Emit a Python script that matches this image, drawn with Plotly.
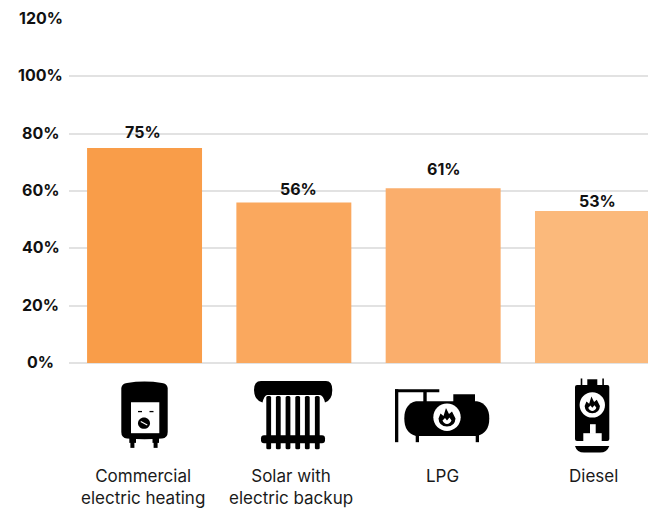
import plotly.graph_objects as go

W, H = 648, 508
ML, MT, MB = 69, 18.5, 145

categories = ["Commercial<br>electric heating", "Solar with<br>electric backup", "LPG", "Diesel"]
values = [75, 56, 61, 53]
labels = ["75%", "56%", "61%", "53%"]
bar_colors = ["#F99D49", "#FAA85E", "#FAAE6C", "#FBB97B"]
y_ticks = [0, 20, 40, 60, 80, 100, 120]

# Hand placement of the value and category labels relative to their bars, in pixels.
label_xshift = [-2, 5, 1, 5]
label_yshift = [16, 13, 19, 10]
category_xshift = [-2, -2.5, -1, 1]

FONT = "Inter, Lato, sans-serif"
INK = "#111111"


def px(x):
    return (x - ML) / (W - ML)


def py(y):
    return (H - MB - y) / (H - MB - MT)


def path(points, color="#000000"):
    d = ""
    for cmd, *pts in points:
        d += cmd
        d += " ".join(f"{px(pts[i]):.5f},{py(pts[i + 1]):.5f}" for i in range(0, len(pts), 2))
    return dict(type="path", xref="paper", yref="paper", path=d + "Z",
                fillcolor=color, line_width=0, layer="above")


def rect(x0, y0, x1, y1, color="#000000"):
    return path([("M", x0, y0), ("L", x1, y0), ("L", x1, y1), ("L", x0, y1)], color)


def rounded(x0, y0, x1, y1, r, color="#000000"):
    return path([
        ("M", x0 + r, y0), ("L", x1 - r, y0), ("Q", x1, y0, x1, y0 + r),
        ("L", x1, y1 - r), ("Q", x1, y1, x1 - r, y1), ("L", x0 + r, y1),
        ("Q", x0, y1, x0, y1 - r), ("L", x0, y0 + r), ("Q", x0, y0, x0 + r, y0),
    ], color)


def disc(cx, cy, rx, ry=None, color="#000000"):
    ry = rx if ry is None else ry
    k = 0.5523
    return path([
        ("M", cx - rx, cy),
        ("C", cx - rx, cy - k * ry, cx - k * rx, cy - ry, cx, cy - ry),
        ("C", cx + k * rx, cy - ry, cx + rx, cy - k * ry, cx + rx, cy),
        ("C", cx + rx, cy + k * ry, cx + k * rx, cy + ry, cx, cy + ry),
        ("C", cx - k * rx, cy + ry, cx - rx, cy + k * ry, cx - rx, cy),
    ], color)


def flame(cx, cy, s):
    # Flame badge: black flame with a white lick at its base.
    outer = path([
        ("M", cx - 8.5 * s, cy + 1 * s), ("L", cx - 6.5 * s, cy - 4 * s), ("L", cx - 3.5 * s, cy - 1.5 * s),
        ("L", cx - 1 * s, cy - 9.5 * s), ("L", cx + 2 * s, cy - 3.5 * s), ("L", cx + 5 * s, cy - 6 * s),
        ("L", cx + 8.5 * s, cy + 1 * s),
        ("Q", cx + 8 * s, cy + 9 * s, cx, cy + 9 * s), ("Q", cx - 8 * s, cy + 9 * s, cx - 8.5 * s, cy + 1 * s),
    ])
    inner = path([
        ("M", cx - 4.5 * s, cy + 3 * s), ("L", cx - 2 * s, cy + 0.5 * s), ("L", cx, cy + 3 * s),
        ("L", cx + 2.5 * s, cy), ("L", cx + 4.5 * s, cy + 3 * s),
        ("Q", cx + 3 * s, cy + 6.5 * s, cx, cy + 6.5 * s), ("Q", cx - 3 * s, cy + 6.5 * s, cx - 4.5 * s, cy + 3 * s),
    ], "#FFFFFF")
    return [outer, inner]


def water_heater():
    return [
        rect(129.3, 436, 136, 443), rect(152.5, 436, 159, 443),
        rect(130.4, 440, 134.4, 448), rect(153.6, 440, 157.6, 448),
        path([
            ("M", 121.3, 388), ("Q", 122, 383.5, 127, 383), ("Q", 144.5, 380, 162, 383),
            ("Q", 167, 383.5, 167.7, 388), ("L", 167.7, 432), ("Q", 167.7, 438, 162, 438.5),
            ("Q", 144.5, 440, 127, 438.5), ("Q", 121.3, 438, 121.3, 432),
        ]),
        rect(131, 402.3, 159.3, 433.3, "#FFFFFF"),
        rect(138, 411, 142, 412.3), rect(149.5, 411, 153.5, 412.3),
        disc(144, 423.3, 6, 5.6),
        path([("M", 141, 421), ("L", 147.5, 424.5), ("L", 147, 425.7), ("L", 140.5, 422.2)], "#FFFFFF"),
    ]


def radiator():
    shapes = [
        path([
            ("M", 261, 381), ("L", 326, 381), ("Q", 332.3, 381, 332.3, 390), ("Q", 332.3, 400, 325, 402.5),
            ("Q", 323.5, 396, 320, 395), ("L", 267, 395), ("Q", 264, 396, 262.5, 402.5),
            ("Q", 254, 400, 254, 390), ("Q", 254, 381, 261, 381),
        ]),
        rounded(261, 435.3, 325, 443.3, 3),
    ]
    for x in [268.7, 278.3, 288, 297.7, 307.3, 317.3]:
        shapes.append(rounded(x - 2.4, 396, x + 2.4, 449.5, 1.5))
    return shapes


def gas_tank():
    return [
        rect(395, 389.3, 398.3, 442.3), rect(395, 389.3, 439.3, 392.3),
        rect(423.3, 390, 426.7, 403),
        rect(453.3, 394.3, 475, 403),
        rect(415.7, 434, 419, 442.3), rect(475.7, 434, 479, 442.3),
        path([
            ("M", 416, 401.3), ("L", 477, 401.3), ("Q", 489.3, 404, 489.3, 418.5),
            ("Q", 489.3, 433, 477, 436), ("L", 416, 436), ("Q", 404.3, 433, 404.3, 418.5),
            ("Q", 404.3, 404, 416, 401.3),
        ]),
        disc(447, 417.3, 13.7, color="#FFFFFF"),
        *flame(447, 417.5, 1),
    ]


def boiler():
    return [
        rect(580.7, 378.5, 582.3, 386), rect(602.3, 378.5, 603.9, 386),
        rect(587.3, 379.3, 597.3, 386),
        rounded(575, 385, 609.3, 441, 2),
        disc(592.3, 405, 12.7, color="#FFFFFF"),
        *flame(592.3, 405.2, 0.9),
        rect(590, 424.3, 595.7, 434, "#FFFFFF"),
        rect(583.3, 433.3, 601.7, 441.5, "#FFFFFF"),
        path([("M", 575, 446), ("L", 609.3, 446), ("Q", 607, 452.7, 600, 452.7),
              ("L", 584, 452.7), ("Q", 577, 452.7, 575, 446)]),
    ]


x_positions = list(range(len(values)))

fig = go.Figure(go.Bar(
    x=x_positions,
    y=values,
    marker=dict(color=bar_colors, line_width=0),
    hoverinfo="skip",
))

bold = dict(family=FONT, size=16, color=INK, weight=700)

# The percent labels are centred in their gutter, so they are set as annotations on the y scale.
tick_notes = [
    dict(x=px(40.5), xref="paper", y=v, yref="y", yshift=1, text=f"{v}%", showarrow=False,
         xanchor="center", yanchor="middle", font=bold)
    for v in y_ticks
]

value_notes = [
    dict(x=x, y=v, xref="x", yref="y", xshift=dx, yshift=dy, text=t, showarrow=False,
         xanchor="center", yanchor="middle", font=bold)
    for x, v, t, dx, dy in zip(x_positions, values, labels, label_xshift, label_yshift)
]

# Category captions sit below the icons, top-aligned under the axis.
category_notes = [
    dict(x=x, y=0, xref="x", yref="y", xshift=dx, yshift=-101, text=t, showarrow=False,
         xanchor="center", yanchor="top", align="center",
         font=dict(family=FONT, size=17, color="#1a1a1a"))
    for x, t, dx in zip(x_positions, categories, category_xshift)
]

fig.update_layout(
    width=W, height=H,
    margin=dict(l=ML, r=0, t=MT, b=MB, pad=0),
    paper_bgcolor="#FFFFFF", plot_bgcolor="#FFFFFF",
    bargap=0.23,
    showlegend=False,
    annotations=tick_notes + value_notes + category_notes,
    shapes=water_heater() + radiator() + gas_tank() + boiler(),
    xaxis=dict(
        range=[-0.506, 3.372],
        tickvals=x_positions,
        showticklabels=False,
        ticks="",
        showgrid=False,
        zeroline=False,
        showline=False,
    ),
    yaxis=dict(
        range=[0, 120],
        tickvals=y_ticks,
        showticklabels=False,
        ticks="",
        gridcolor="#E2E2E2",
        gridwidth=1.5,
        zeroline=True,
        zerolinecolor="#E2E2E2",
        zerolinewidth=1.5,
    ),
)

fig.write_html("out.html", config={"displayModeBar": False})
